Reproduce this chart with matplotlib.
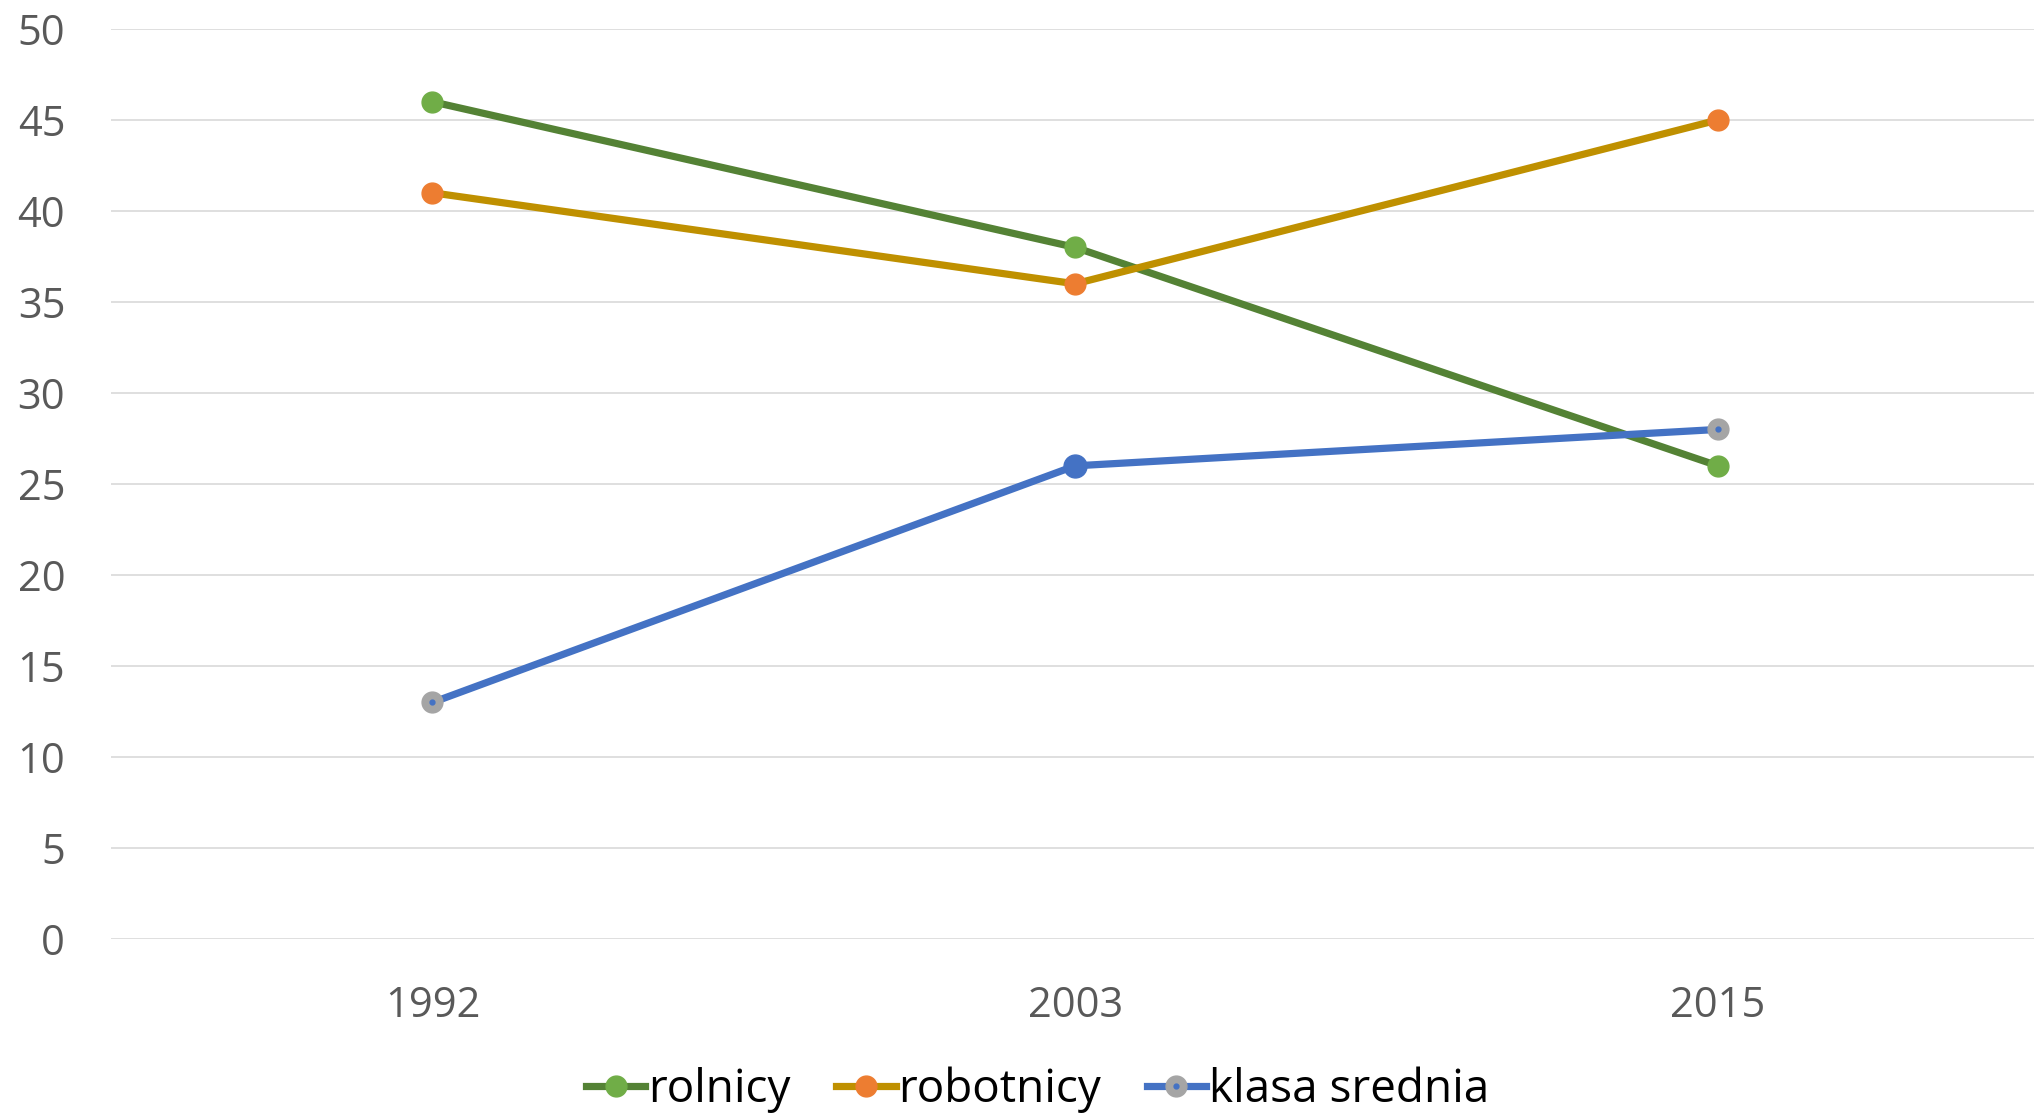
import matplotlib
matplotlib.use("Agg")
import matplotlib.pyplot as plt
from matplotlib.lines import Line2D
from matplotlib.legend_handler import HandlerTuple

years = ["1992", "2003", "2015"]
rolnicy = [46, 38, 26]
robotnicy = [41, 36, 45]
klasa_srednia = [13, 26, 28]
series_names = ["rolnicy", "robotnicy", "klasa srednia"]
y_ticks = [0, 5, 10, 15, 20, 25, 30, 35, 40, 45, 50]

FONT = ["Open Sans", "DejaVu Sans"]
plt.rcParams['font.family'] = FONT

fig = plt.figure(figsize=(20.34, 11.14), dpi=100)
ax = fig.add_axes([0.0546, 0.157, 0.948, 0.817])

x = list(range(len(years)))
LW = 5.2
MS = 15

ax.plot(x, rolnicy, color="#548235", lw=LW, marker="o", ms=MS,
        mfc="#70AD47", mec="#70AD47", zorder=3)
ax.plot(x, robotnicy, color="#BF9000", lw=LW, marker="o", ms=MS,
        mfc="#ED7D31", mec="#ED7D31", zorder=4)
ax.plot(x, klasa_srednia, color="#4472C4", lw=LW, zorder=5)
# grey markers with blue centre at first and last, blue marker in the middle
edge_idx = [0, len(x) - 1]
ax.plot([x[i] for i in edge_idx], [klasa_srednia[i] for i in edge_idx],
        ls="none", marker="o", ms=MS, mfc="#A5A5A5", mec="#A5A5A5", zorder=6)
ax.plot([x[i] for i in edge_idx], [klasa_srednia[i] for i in edge_idx],
        ls="none", marker="o", ms=3.5, mfc="#4472C4", mec="#4472C4", zorder=7)
ax.plot([x[1]], [klasa_srednia[1]], ls="none", marker="o", ms=MS + 1.5,
        mfc="#4472C4", mec="#4472C4", zorder=6)

ax.set_xlim(-0.5, len(years) - 0.5)
ax.set_ylim(0, 50)
ax.set_yticks(y_ticks)
ax.set_xticks(x)
ax.set_xticklabels(years)
ax.grid(axis="y", color="#D9D9D9", lw=1.2, zorder=0)
ax.set_axisbelow(True)
for s in ax.spines.values():
    s.set_visible(False)
ax.tick_params(axis="both", length=0, labelsize=30, labelcolor="#595959")
ax.tick_params(axis="y", pad=33)
ax.tick_params(axis="x", pad=33)

h1 = Line2D([], [], color="#548235", lw=LW, marker="o", ms=MS,
            mfc="#70AD47", mec="#70AD47")
h2 = Line2D([], [], color="#BF9000", lw=LW, marker="o", ms=MS,
            mfc="#ED7D31", mec="#ED7D31")
h3a = Line2D([], [], color="#4472C4", lw=LW, marker="o", ms=MS,
             mfc="#A5A5A5", mec="#A5A5A5")
h3b = Line2D([], [], ls="none", marker="o", ms=3.5, mfc="#4472C4", mec="#4472C4")
leg = fig.legend([h1, h2, (h3a, h3b)], series_names,
                 handler_map={tuple: HandlerTuple(ndivide=1, pad=0)},
                 loc="center", bbox_to_anchor=(0.51, 0.022), ncol=3,
                 frameon=False, fontsize=33, handlelength=1.3,
                 handletextpad=0.05, columnspacing=1.0, borderaxespad=0)
for t in leg.get_texts():
    t.set_color("black")

fig.savefig("out.png", dpi=100)
